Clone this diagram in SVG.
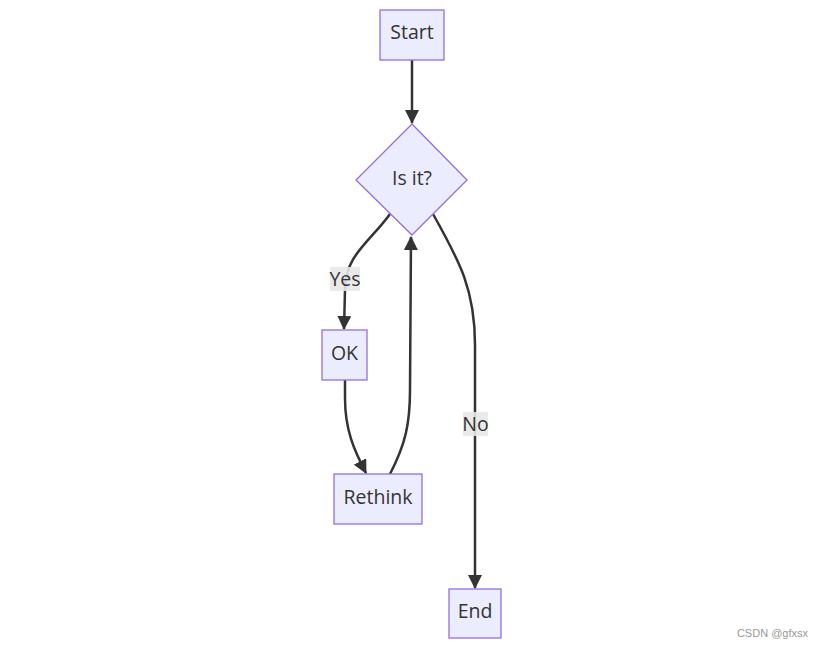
<svg xmlns="http://www.w3.org/2000/svg" width="824" height="649" viewBox="0 0 824 649">
<style>
.node{fill:#ECECFF;stroke:#9370DB;stroke-width:1.3px}
.lbl{font-family:"Open Sans","Liberation Sans",sans-serif;font-size:19.5px;fill:#333;text-anchor:middle;dominant-baseline:central}
.edge{fill:none;stroke:#333;stroke-width:2.5px}
.ebg{fill:#e8e8e8;opacity:0.9}
</style>
<defs>
<marker id="ah" viewBox="0 0 14 14" refX="13" refY="7" markerWidth="14" markerHeight="14" markerUnits="userSpaceOnUse" orient="auto">
<path d="M0,0 L14,7 L0,14 z" fill="#333"/>
</marker>
</defs>
<rect width="824" height="649" fill="#fff"/>
<g id="edges">
<path class="edge" d="M412,60 L412,123" marker-end="url(#ah)"/>
<path class="edge" d="M390,214 C370,242 345,255 345,290 L344,329" marker-end="url(#ah)"/>
<path class="edge" d="M345,380 L345,398 C345,430 354,450 366,473" marker-end="url(#ah)"/>
<path class="edge" d="M390,474 C405,445 410,425 410,390 L411,237" marker-end="url(#ah)"/>
<path class="edge" d="M433,214 C460,262 475,290 475,345 L475,588" marker-end="url(#ah)"/>
</g>
<g id="edge-labels">
<g id="label-yes"><rect class="ebg" x="330" y="267" width="30" height="24"/><text class="lbl" x="345" y="278">Yes</text></g>
<g id="label-no"><rect class="ebg" x="463" y="412" width="25" height="24"/><text class="lbl" x="475.5" y="423">No</text></g>
</g>
<g id="start"><rect class="node" x="380" y="10" width="64" height="50"/><text class="lbl" x="412" y="31.5">Start</text></g>
<g id="decision"><polygon class="node" points="412,124 467,180 412,235 356,180"/><text class="lbl" x="412" y="177">Is it?</text></g>
<g id="ok"><rect class="node" x="322" y="330" width="45" height="50"/><text class="lbl" x="344.5" y="352">OK</text></g>
<g id="rethink"><rect class="node" x="334" y="474" width="88" height="50"/><text class="lbl" x="378" y="496">Rethink</text></g>
<g id="end"><rect class="node" x="449" y="589" width="52" height="49"/><text class="lbl" x="475" y="610">End</text></g>
<text x="808" y="637" font-family="Liberation Sans, sans-serif" font-size="11" fill="#999" text-anchor="end">CSDN @gfxsx</text>
</svg>
